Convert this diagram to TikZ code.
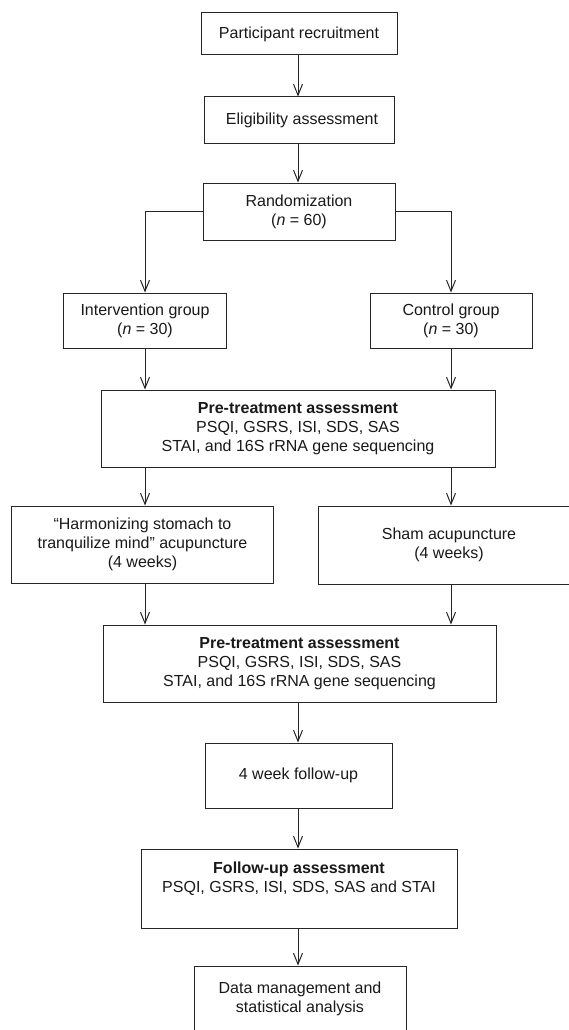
\documentclass[tikz,border=0pt]{standalone}
\usepackage{fontspec}
\setmainfont{Liberation Sans}
\usetikzlibrary{arrows.meta}
\begin{document}
\begin{tikzpicture}[x=1pt,y=-1pt,
  box/.style={draw=black!85,line width=1pt,align=center,inner sep=0pt,text=black!90,
    font=\fontsize{16}{19.2}\selectfont},
  arr/.style={draw=black!85,line width=1pt,-{Straight Barb[length=11pt,width=9pt,line width=1pt]}}]
\useasboundingbox (0,0) rectangle (569,1030);
\clip (0,0) rectangle (569,1030);
\fill[white] (0,0) rectangle (569,1030);
\node[box,minimum width=196pt,minimum height=42pt] (rec) at (299,34) {Participant recruitment};
\node[box,minimum width=190pt,minimum height=46pt] (elig) at (299,120) {\hspace{6pt}Eligibility assessment};
\node[box,minimum width=192pt,minimum height=57pt] (rand) at (299,211.5) {Randomization\\(\textit{n} = 60)};
\node[box,minimum width=163pt,minimum height=55pt] (int) at (145,320.5) {Intervention group\\(\textit{n} = 30)};
\node[box,minimum width=162pt,minimum height=55pt] (ctrl) at (451,320.5) {Control group\\(\textit{n} = 30)};
\node[box,minimum width=394pt,minimum height=77pt] (pre1) at (298,428.5) {\textbf{Pre-treatment assessment}\\PSQI, GSRS, ISI, SDS, SAS\\STAI, and 16S rRNA gene sequencing};
\node[box,minimum width=262pt,minimum height=77pt] (harm) at (142.5,544.5) {``Harmonizing stomach to\\tranquilize mind'' acupuncture\\(4 weeks)};
\node[box,minimum width=262pt,minimum height=78pt] (sham) at (449,545) {Sham acupuncture\\(4 weeks)};
\node[box,minimum width=393pt,minimum height=77pt] (pre2) at (299.5,663.5) {\textbf{Pre-treatment assessment}\\PSQI, GSRS, ISI, SDS, SAS\\STAI, and 16S rRNA gene sequencing};
\node[box,minimum width=187pt,minimum height=65pt] (fu4) at (298.5,775.5) {4 week follow-up};
\node[box,minimum width=316pt,minimum height=79pt] (fuass) at (299,888.5) {\textbf{Follow-up assessment}\\PSQI, GSRS, ISI, SDS, SAS and STAI\\[4pt]};
\node[box,minimum width=212pt,minimum height=66pt] (data) at (300,999) {Data management and\\statistical analysis};
\draw[arr] (rec.south -| 298,0) -- (elig.north -| 298,0);
\draw[arr] (elig.south -| 298,0) -- (rand.north -| 298,0);
\draw[arr] (rand.west) -| (int.north);
\draw[arr] (rand.east) -| (ctrl.north);
\draw[arr] (int.south) -- (int.south |- pre1.north);
\draw[arr] (ctrl.south) -- (ctrl.south |- pre1.north);
\draw[arr] (pre1.south -| int) -- (harm.north -| int);
\draw[arr] (pre1.south -| ctrl) -- (sham.north -| ctrl);
\draw[arr] (harm.south -| int) -- (pre2.north -| int);
\draw[arr] (sham.south -| ctrl) -- (pre2.north -| ctrl);
\draw[arr] (pre2.south -| 298,0) -- (fu4.north -| 298,0);
\draw[arr] (fu4.south -| 298,0) -- (fuass.north -| 298,0);
\draw[arr] (fuass.south -| 298,0) -- (data.north -| 298,0);
\end{tikzpicture}
\end{document}
